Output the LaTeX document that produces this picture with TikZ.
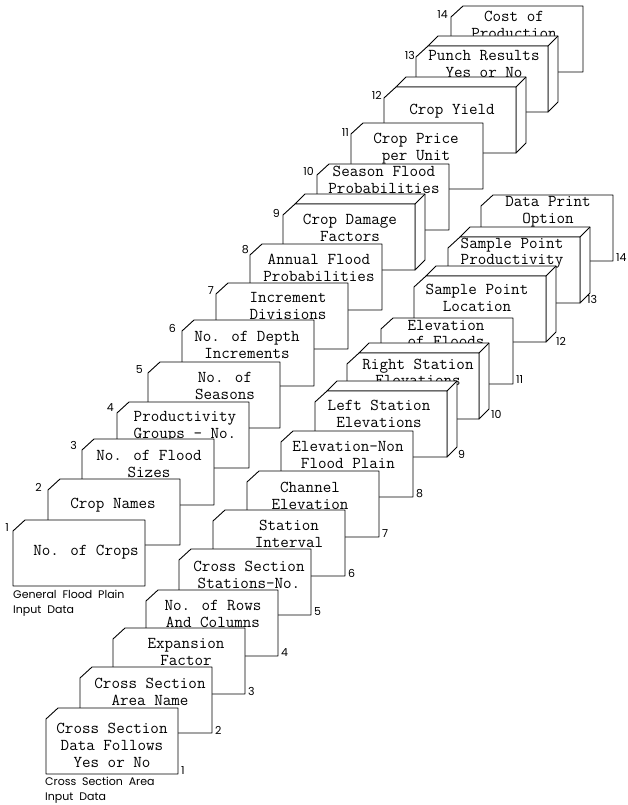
\documentclass[tikz,border=0pt]{standalone}
\usepackage{fontspec}
\newfontfamily\numfont{Poppins}
\tikzset{
  card/.style={draw, fill=white, line width=0.9pt, line join=round},
  flat card/.pic={
    \draw[card] (0,11) -- (12,0) -- (132,0) -- (132,66) -- (0,66) -- cycle;
  },
  thick card/.pic={
    \draw[card] (12,0) -- ++(10,-10) -- ++(120,0) -- ++(0,66) -- ++(-10,10) -- ++(0,-66) -- cycle;
    \draw[card] (132,0) -- ++(10,-10);
    \draw[card] (0,11) -- (12,0) -- (132,0) -- (132,66) -- (0,66) -- cycle;
  }
}

\begin{document}
\begin{tikzpicture}[x=1pt, y=-1pt,
  card text/.style={font=\fontsize{16.6}{17}\selectfont\ttfamily, align=center, inner sep=0pt},
  tight/.style={font=\fontsize{16.6}{16}\selectfont\ttfamily},
  card num/.style={font=\fontsize{11}{13}\selectfont\numfont, inner sep=0pt},
  deck caption/.style={font=\fontsize{11}{15}\selectfont\numfont, align=left, anchor=north west, inner sep=0pt}]
\useasboundingbox (0,0) rectangle (628,805);
%%% general flood plain deck %%%

      \pic at (451,6) {flat card};
      \node[card text] (gen14) at (514,25) {Cost of\\Production};
      \node[card num, anchor=east] (gen14 no) at (448,15) {14};
      %%
      \pic at (416,46) {thick card};
      \node[card text] (gen13) at (484,64) {Punch Results\\Yes or No};
      \node[card num, anchor=east] (gen13 no) at (415,55) {13};
      %%
      \pic at (384,87) {thick card};
      \node[card text] (gen12) at (452,111) {Crop Yield};
      \node[card num, anchor=east] (gen12 no) at (382,95) {12};
      %%
      \pic at (351,123) {flat card};
      \node[card text] (gen11) at (416,149) {Crop Price\\per Unit};
      \node[card num, anchor=east] (gen11 no) at (349,133) {11};
      %%
      \pic at (317,164) {flat card};
      \node[card text] (gen10) at (384,180) {Season Flood\\Probabilities};
      \node[card num, anchor=east] (gen10 no) at (314,171) {10};
      %%
      \pic at (283,204) {thick card};
      \node[card text] (gen9) at (350,228) {Crop Damage\\Factors};
      \node[card num, anchor=east] (gen9 no) at (280,213) {9};
      %%
      \pic at (250,244) {flat card};
      \node[card text] (gen8) at (319,268) {Annual Flood\\Probabilities};
      \node[card num, anchor=east] (gen8 no) at (249,250) {8};
      %%
      \pic at (216,283) {flat card};
      \node[card text] (gen7) at (288,306) {Increment\\Divisions};
      \node[card num, anchor=east] (gen7 no) at (214,291) {7};
      %%
      \pic at (182,320) {flat card};
      \node[card text] (gen6) at (247,345) {No. of Depth\\Increments};
      \node[card num, anchor=east] (gen6 no) at (176,328) {6};
      %%
      \pic at (148,362) {flat card};
      \node[card text] (gen5) at (225,386) {No. of\\Seasons};
      \node[card num, anchor=east] (gen5 no) at (143,370) {5};
      %%
      \pic at (117,402) {flat card};
      \node[card text] (gen4) at (185,427) {Productivity\\Groups - No.};
      \node[card num, anchor=east] (gen4 no) at (114,408) {4};
      %%
      \pic at (82,439) {flat card};
      \node[card text] (gen3) at (149,464) {No. of Flood\\Sizes};
      \node[card num, anchor=east] (gen3 no) at (77,445) {3};
      %%
      \pic at (48,479) {flat card};
      \node[card text] (gen2) at (113,505) {Crop Names};
      \node[card num, anchor=east] (gen2 no) at (42,487) {2};
      %%
      \pic at (13,520) {flat card};
      \node[card text] (gen1) at (86,552) {No. of Crops};
      \node[card num, anchor=east] (gen1 no) at (9,528) {1};
      \node[deck caption] (gen caption) at (13,590) {General\ \ Flood\ \ Plain\\Input\ \ Data};

%%% cross section area deck %%%

      \pic at (481,195) {flat card};
      \node[card text] (xs14) at (548,212) {Data Print\\Option};
      \node[card num, anchor=west] (xs14 no) at (616,258) {14};
      %%
      \pic at (448,237) {thick card};
      \node[card text, tight] (xs13) at (512,253) {Sample Point\\Productivity};
      \node[card num, anchor=west] (xs13 no) at (587,299) {13};
      %%
      \pic at (414,276) {thick card};
      \node[card text] (xs12) at (477,298) {Sample Point\\Location};
      \node[card num, anchor=west] (xs12 no) at (556,341) {12};
      %%
      \pic at (381,318) {flat card};
      \node[card text, tight] (xs11) at (446,333) {Elevation\\of Floods};
      \node[card num, anchor=west] (xs11 no) at (516,380) {11};
      %%
      \pic at (347,353) {thick card};
      \node[card text, tight] (xs10) at (418,372) {Right Station\\Elevations};
      \node[card num, anchor=west] (xs10 no) at (491,414) {10};
      %%
      \pic at (315,391) {thick card};
      \node[card text] (xs9) at (379,414) {Left Station\\Elevations};
      \node[card num, anchor=west] (xs9 no) at (458,454) {9};
      %%
      \pic at (281,431) {flat card};
      \node[card text] (xs8) at (348,455) {Elevation-Non\\Flood Plain};
      \node[card num, anchor=west] (xs8 no) at (416,494) {8};
      %%
      \pic at (247,471) {flat card};
      \node[card text] (xs7) at (310,496) {Channel\\Elevation};
      \node[card num, anchor=west] (xs7 no) at (382,534) {7};
      %%
      \pic at (213,510) {flat card};
      \node[card text] (xs6) at (289,534) {Station\\Interval};
      \node[card num, anchor=west] (xs6 no) at (348,573) {6};
      %%
      \pic at (179,549) {flat card};
      \node[card text] (xs5) at (249,575) {Cross Section\\Stations-No.};
      \node[card num, anchor=west] (xs5 no) at (314,612) {5};
      %%
      \pic at (146,590) {flat card};
      \node[card text] (xs4) at (213,614) {No. of Rows\\And Columns};
      \node[card num, anchor=west] (xs4 no) at (281,653) {4};
      %%
      \pic at (113,628) {flat card};
      \node[card text] (xs3) at (186,652) {Expansion\\Factor};
      \node[card num, anchor=west] (xs3 no) at (248,691) {3};
      %%
      \pic at (80,667) {flat card};
      \node[card text] (xs2) at (150,692) {Cross Section\\Area Name};
      \node[card num, anchor=west] (xs2 no) at (215,730) {2};
      %%
      \pic at (46,708) {flat card};
      \node[card text] (xs1) at (112,745) {Cross Section\\Data Follows\\Yes or No};
      \node[card num, anchor=west] (xs1 no) at (181,771) {1};
      \node[deck caption] (xs caption) at (45,777) {Cross\ \ Section\ \ Area\\Input\ \ Data};

\end{tikzpicture}
\end{document}
